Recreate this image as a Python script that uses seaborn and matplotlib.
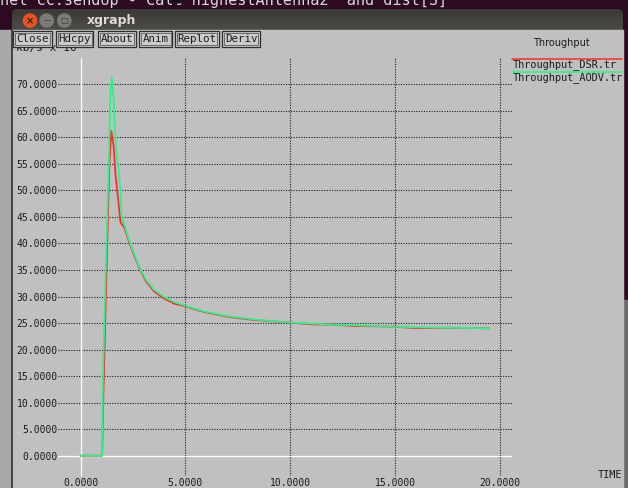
import numpy as np
import pandas as pd
import matplotlib
matplotlib.use("Agg")
import matplotlib.pyplot as plt
import seaborn as sns
from matplotlib.patches import Rectangle, Circle, FancyBboxPatch
from matplotlib.colors import LinearSegmentedColormap

sns.set_theme(style="white")
plt.rcParams['font.family'] = ['DejaVu Sans Mono', 'DejaVu Sans']

# ---- throughput traces (kb/s x 10^-3 over simulation time) ----
time_aodv = [0.0, 1.03, 1.07, 1.28, 1.34, 1.42, 1.49, 1.58, 1.66, 1.73, 1.81, 1.90, 1.96,
             2.1, 2.3, 2.5, 2.8, 3.1, 3.5, 4.0, 4.5, 5.0, 5.5, 6.0, 7.0, 8.0, 9.0,
             10.0, 11.0, 12.0, 13.0, 14.0, 15.0, 16.0, 17.0, 18.0, 19.0, 19.5]
thr_aodv = [0.0, 0.0, 15.0, 46.0, 53.4, 67.8, 71.3, 67.5, 60.3, 56.2, 54.0, 50.2, 45.2,
            43.4, 40.8, 38.6, 35.6, 33.3, 31.3, 29.9, 28.9, 28.3, 27.6, 27.1, 26.3, 25.8, 25.4,
            25.1, 24.9, 24.7, 24.6, 24.45, 24.3, 24.2, 24.15, 24.1, 24.05, 24.0]

time_dsr = [0.0, 1.03, 1.05, 1.08, 1.27, 1.38, 1.47, 1.58, 1.66, 1.72, 1.81, 1.91,
            2.1, 2.3, 2.5, 2.8, 3.1, 3.5, 4.0, 4.5, 5.0, 5.5, 6.0, 7.0, 8.0, 9.0,
            10.0, 11.0, 12.0, 13.0, 14.0, 15.0, 16.0, 17.0, 18.0, 19.0, 19.5]
thr_dsr = [0.0, 0.0, 3.3, 10.0, 39.5, 55.3, 61.2, 58.4, 53.4, 51.1, 47.7, 44.0,
           42.9, 40.5, 38.3, 35.4, 33.0, 31.0, 29.6, 28.6, 28.2, 27.5, 27.0, 26.2, 25.7, 25.35,
           25.1, 24.75, 24.7, 24.45, 24.4, 24.3, 24.05, 24.1, 24.1, 24.05, 24.0]

trace_names = ["Throughput_DSR.tr", "Throughput_AODV.tr"]
trace_colors = ["#ff2a2a", "#2cf28e"]

x_ticks = [0, 5, 10, 15, 20]
x_tick_labels = ["0.0000", "5.0000", "10.0000", "15.0000", "20.0000"]
y_ticks = [0, 5, 10, 15, 20, 25, 30, 35, 40, 45, 50, 55, 60, 65, 70]
y_tick_labels = ["0.0000", "5.0000", "10.0000", "15.0000", "20.0000", "25.0000",
                 "30.0000", "35.0000", "40.0000", "45.0000", "50.0000", "55.0000",
                 "60.0000", "65.0000", "70.0000"]

df = pd.concat([
    pd.DataFrame({"time": time_dsr, "throughput": thr_dsr, "trace": trace_names[0]}),
    pd.DataFrame({"time": time_aodv, "throughput": thr_aodv, "trace": trace_names[1]}),
], ignore_index=True)

W, H = 628, 488
fig = plt.figure(figsize=(W / 100, H / 100), dpi=100)

# ---- window chrome drawn in pixel coordinates ----
bg = fig.add_axes([0, 0, 1, 1])
bg.set_xlim(0, W)
bg.set_ylim(H, 0)
bg.axis("off")

term_bg = "#2c0b22"
bg.add_patch(Rectangle((0, 0), W, H, color=term_bg, zorder=0))
bg.text(0, 5.0, "nel cc:sendUp - Calc highestAntenna2  and dist[S]", color="#d9d4d6",
        fontsize=11, va="baseline", ha="left", family="DejaVu Sans Mono", zorder=1)
# mouse pointer peeking over the terminal line
bg.add_patch(plt.Polygon([[172, 0], [179, 0], [175.5, 5]], color="#111111", zorder=2))

# side strips outside the client area
bg.add_patch(Rectangle((0, 30), 12, H - 30, color="#a9a9a9", zorder=1))
bg.plot([11.8, 11.8], [30, H], color="#3a2a33", lw=1.2, zorder=2)
bg.add_patch(Rectangle((623, 300), W - 623, H - 300, color="#6b6b6b", zorder=1))

# title bar with rounded top corners and a vertical gradient
grad = np.linspace(0, 1, 64).reshape(-1, 1)
tb_cmap = LinearSegmentedColormap.from_list("tb", ["#3a3935", "#4e4c48"])
tb_shape = FancyBboxPatch((12, 9), 611, 30, boxstyle="round,pad=0,rounding_size=5",
                          facecolor="none", edgecolor="none", zorder=1)
bg.add_patch(tb_shape)
im = bg.imshow(grad, extent=[12, 623, 30, 9], aspect="auto", cmap=tb_cmap, zorder=1,
               interpolation="bilinear")
im.set_clip_path(tb_shape)
bg.set_xlim(0, W)
bg.set_ylim(H, 0)

bg.add_patch(Circle((30, 20.6), 6.6, color="#e8541f", zorder=3))
bg.text(30, 20.8, "×", color="#3b1a0c", fontsize=7, ha="center", va="center",
        family="DejaVu Sans", fontweight="bold", zorder=4)
for cx, sym in [(46.7, "−"), (64.3, "□")]:
    bg.add_patch(Circle((cx, 20.6), 6.6, color="#7d7b76", zorder=3))
    bg.text(cx, 20.8, sym, color="#3c3b37", fontsize=6, ha="center", va="center",
            family="DejaVu Sans", zorder=4)
bg.text(87, 20.8, "xgraph", color="#dfdbd2", fontsize=9, fontweight="bold",
        family="DejaVu Sans", ha="left", va="center", zorder=3)

# client area
bg.add_patch(Rectangle((12, 30), 611, H - 30, color="#c0c0c0", zorder=1))

# y unit label, partly hidden under the button row
bg.text(16, 50.5, "kb/s x 10", fontsize=8, color="#1c1c1c", ha="left", va="baseline",
        family="DejaVu Sans Mono", zorder=2)
bg.text(76, 46.5, "-3", fontsize=6.5, color="#1c1c1c", ha="left", va="baseline",
        family="DejaVu Sans Mono", zorder=2)

# button row
buttons = [("Close", 12.7, 52.3), ("Hdcpy", 55.7, 93.3), ("About", 97.7, 136.0),
           ("Anim", 139.3, 172.3), ("Replot", 175.3, 219.0), ("Deriv", 222.3, 260.0)]
for label, x0, x1 in buttons:
    bg.add_patch(Rectangle((x0, 31), x1 - x0, 15.5, facecolor="#cbcbcb",
                           edgecolor="#2e2e2e", lw=0.9, zorder=5))
    bg.add_patch(Rectangle((x0 + 1.8, 32.8), x1 - x0 - 3.6, 11.9, facecolor="none",
                           edgecolor="#5a5a5a", lw=0.6, zorder=6))
    bg.text((x0 + x1) / 2, 39.0, label, fontsize=7.8, color="#1e1e1e", ha="center",
            va="center", family="DejaVu Sans Mono", zorder=7)

# chart title and legend at the right
bg.text(561.7, 43.3, "Throughput", fontsize=7, color="#1c1c1c", ha="center",
        va="center", family="DejaVu Sans", zorder=3)
for i, (name, col) in enumerate(zip(trace_names, trace_colors)):
    ly = 59.3 + 13.0 * i
    bg.plot([512, 622], [ly, ly], color=col, lw=1.1, zorder=3)
    bg.text(512.7, ly + 5.6, name, fontsize=7.4, color="#1c1c1c", ha="left",
            va="center", family="DejaVu Sans Mono", zorder=3)

bg.text(598, 475, "TIME", fontsize=7.4, color="#1c1c1c", ha="left", va="center",
        family="DejaVu Sans Mono", zorder=3)

# ---- plotting area ----
px_left, px_right, px_top, px_bottom = 58, 512, 58, 476
ax = fig.add_axes([px_left / W, 1 - px_bottom / H, (px_right - px_left) / W,
                   (px_bottom - px_top) / H])
ax.set_facecolor("none")
ax.patch.set_alpha(0)

x0_px, x_scale = 80.5, 20.97    # pixels at t=0 and per time unit
y0_px, y_scale = 455.7, 5.306   # pixels at value 0 and per value unit
ax.set_xlim((px_left - x0_px) / x_scale, (px_right - x0_px) / x_scale)
ax.set_ylim((y0_px - px_bottom) / y_scale, (y0_px - px_top) / y_scale)

ax.set_xticks(x_ticks)
ax.set_xticklabels(x_tick_labels)
ax.set_yticks(y_ticks)
ax.set_yticklabels(y_tick_labels)
ax.tick_params(axis="both", length=0, labelsize=7, labelcolor="#1c1c1c")
ax.tick_params(axis="y", pad=0.3)
ax.tick_params(axis="x", pad=1.2)
for t in ax.get_xticklabels() + ax.get_yticklabels():
    t.set_family("DejaVu Sans Mono")
for s in ax.spines.values():
    s.set_visible(False)

ax.grid(True, color="#1e1e1e", lw=0.8, linestyle=(0, (1, 1.3)), zorder=0)
ax.set_axisbelow(True)
ax.axhline(0, color="white", lw=1.0, zorder=1)
ax.axvline(0, color="white", lw=1.0, zorder=1)

sns.lineplot(data=df, x="time", y="throughput", hue="trace", hue_order=trace_names,
             palette=trace_colors, estimator=None, sort=False, legend=False,
             lw=1.3, ax=ax, zorder=3)
ax.set_xlabel("")
ax.set_ylabel("")

fig.savefig("out.png", dpi=100)
